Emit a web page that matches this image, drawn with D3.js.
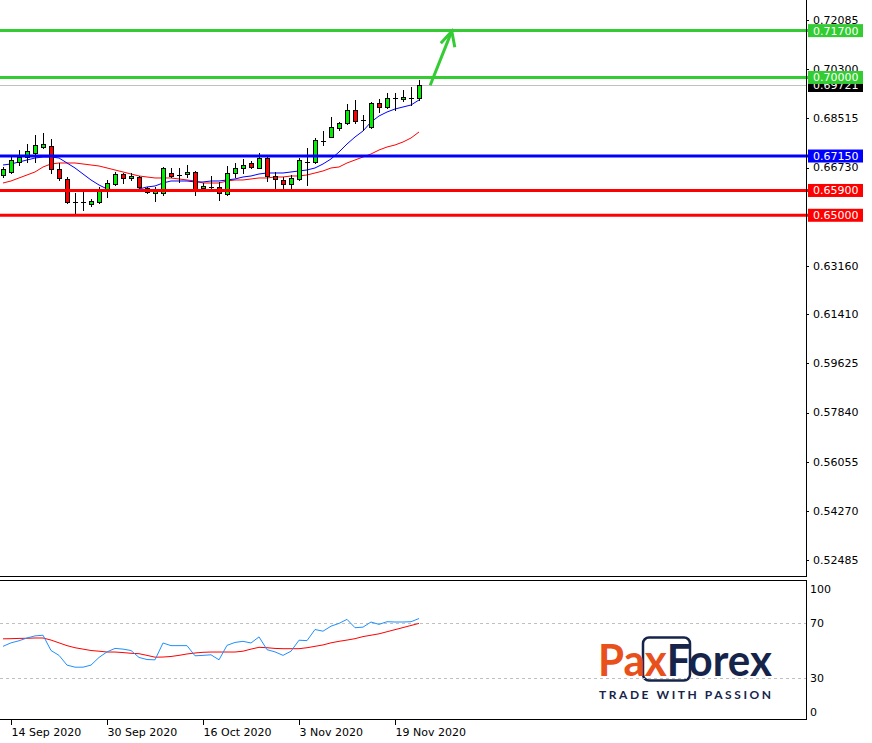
<!DOCTYPE html>
<html><head><meta charset="utf-8">
<script src="https://cdn.jsdelivr.net/npm/d3@7"></script>
<style>
body{margin:0;background:#fff;}
svg{display:block;font-family:"DejaVu Sans",sans-serif;}
</style>
</head><body>
<svg id="c" width="872" height="743"></svg>
<script>
// ---------- DATA ----------
const dates = ["2020-09-11","2020-09-14","2020-09-15","2020-09-16","2020-09-17","2020-09-18",
"2020-09-21","2020-09-22","2020-09-23","2020-09-24","2020-09-25",
"2020-09-28","2020-09-29","2020-09-30","2020-10-01","2020-10-02",
"2020-10-05","2020-10-06","2020-10-07","2020-10-08","2020-10-09",
"2020-10-12","2020-10-13","2020-10-14","2020-10-15","2020-10-16",
"2020-10-19","2020-10-20","2020-10-21","2020-10-22","2020-10-23",
"2020-10-26","2020-10-27","2020-10-28","2020-10-29","2020-10-30",
"2020-11-02","2020-11-03","2020-11-04","2020-11-05","2020-11-06",
"2020-11-09","2020-11-10","2020-11-11","2020-11-12","2020-11-13",
"2020-11-16","2020-11-17","2020-11-18","2020-11-19","2020-11-20",
"2020-11-23","2020-11-24"];
const open = [0.66462,0.66571,0.66933,0.67115,0.67260,0.67477,0.67514,0.66679,0.66317,0.65482,0.65482,0.65410,0.65482,0.65881,0.66135,0.66498,0.66353,0.66389,0.65990,0.65809,0.65809,0.66534,0.66462,0.66498,0.66571,0.65990,0.66026,0.66026,0.65772,0.66534,0.66716,0.66897,0.66716,0.67078,0.66425,0.66280,0.66135,0.66317,0.66933,0.66933,0.67695,0.67840,0.68167,0.68348,0.68820,0.68457,0.68203,0.69074,0.68929,0.69255,0.69219,0.69255,0.69255];
const high = [0.66752,0.67115,0.67368,0.67586,0.67913,0.67985,0.67768,0.66897,0.66389,0.65809,0.65845,0.65591,0.66026,0.66280,0.66571,0.66534,0.66534,0.66425,0.66026,0.66026,0.66752,0.66716,0.66716,0.66824,0.66607,0.66171,0.66425,0.66208,0.66788,0.66897,0.67042,0.66970,0.67260,0.67115,0.66571,0.66389,0.66462,0.67078,0.67441,0.67804,0.68058,0.68566,0.68384,0.69038,0.69183,0.68638,0.69110,0.69219,0.69437,0.69437,0.69545,0.69654,0.69908];
const low = [0.66389,0.66534,0.66824,0.66933,0.66933,0.67441,0.66534,0.66280,0.65446,0.65083,0.65192,0.65337,0.65446,0.65663,0.66099,0.66171,0.66280,0.65990,0.65809,0.65518,0.65736,0.66389,0.66208,0.66389,0.65736,0.65954,0.65990,0.65555,0.65736,0.66389,0.66534,0.66716,0.66716,0.66244,0.65990,0.65990,0.65990,0.66280,0.66099,0.66897,0.67550,0.67840,0.68094,0.68312,0.68348,0.68094,0.68167,0.68747,0.68892,0.68820,0.69146,0.69001,0.69183];
const close = [0.66679,0.67006,0.67115,0.67332,0.67550,0.67586,0.66679,0.66353,0.65482,0.65482,0.65482,0.65518,0.65881,0.66171,0.66498,0.66353,0.66425,0.66026,0.65845,0.65954,0.66716,0.66425,0.66462,0.66571,0.65954,0.66063,0.66026,0.65809,0.66534,0.66716,0.66824,0.66752,0.67078,0.66425,0.66317,0.66135,0.66353,0.67006,0.66933,0.67731,0.67695,0.68203,0.68348,0.68820,0.68421,0.68457,0.69074,0.68929,0.69255,0.69255,0.69291,0.69255,0.69721];
const maFast = [0.66824,0.66861,0.66933,0.67006,0.67078,0.67115,0.67115,0.67078,0.66897,0.66716,0.66498,0.66280,0.66099,0.65954,0.65917,0.65881,0.65881,0.65954,0.66026,0.66063,0.66171,0.66244,0.66244,0.66244,0.66208,0.66208,0.66244,0.66244,0.66280,0.66317,0.66389,0.66425,0.66498,0.66534,0.66534,0.66534,0.66571,0.66607,0.66643,0.66716,0.66861,0.67042,0.67296,0.67586,0.67840,0.68058,0.68384,0.68602,0.68747,0.68856,0.68929,0.69001,0.69183];
const maSlow = [0.66171,0.66244,0.66353,0.66462,0.66571,0.66752,0.66861,0.66897,0.66897,0.66897,0.66861,0.66824,0.66788,0.66716,0.66643,0.66571,0.66498,0.66425,0.66389,0.66353,0.66353,0.66353,0.66317,0.66280,0.66244,0.66171,0.66171,0.66171,0.66244,0.66280,0.66280,0.66317,0.66353,0.66353,0.66389,0.66389,0.66425,0.66425,0.66462,0.66534,0.66607,0.66716,0.66752,0.66897,0.67006,0.67115,0.67223,0.67368,0.67477,0.67550,0.67659,0.67804,0.68022];
const oscMain = [53,55.5,57,59,60.5,61,50,46.5,39.5,38,38,39.5,45,49,51.5,51,50,45,43.5,43.3,55.4,53.5,53.5,53.5,46.2,46.5,46.9,43.3,53.7,55.8,56.6,55.4,59.8,50.6,49,46.5,49.5,57.4,57.1,65.1,63.9,67.5,69.5,72.4,66.4,66.8,70.5,68.8,70.7,70.5,70.5,70.7,73];
const oscSignal = [58.4,58.5,58.7,58.8,59,59,57.5,55.5,53.5,52,51,50,49.5,48.9,48.9,48.5,48,47.7,46.5,45.2,45.3,45.7,46.5,47.5,48.2,48.7,48.9,48.9,48.9,48.9,49.5,51,52.3,52,51.5,51.3,51.3,51.3,52,53,54,55.5,56.6,57.5,58.5,60,61,62,63.5,65,66.5,68,69.5];
const priceTicks = [0.72085,0.70300,0.68515,0.66730,0.63160,0.61410,0.59625,0.57840,0.56055,0.54270,0.52485];
const levelValues = [0.71700,0.70000,0.67150,0.65900,0.65000];
const levelColors = ["#33cc33","#33cc33","#0000ff","#ff0000","#ff0000"];
const currentPrice = 0.69721;
const oscTicks = [100,70,30,0];
const oscLevels = [70,30];
const dateTicks = ["2020-09-14","2020-09-30","2020-10-16","2020-11-03","2020-11-19"];
const arrowFrom = {i:53.4, v:0.6972};
const arrowTo = {i:56.1, v:0.7168};

// ---------- LAYOUT ----------
const W=872, H=743, plotR=806, mainBottom=577, oscTop=581, oscBottom=720;
const svg=d3.select("#c");
svg.append("rect").attr("width",W).attr("height",H).attr("fill","#fff");

const x=d3.scaleLinear().domain([0,52]).range([3,419]);
const y=d3.scaleLinear().domain([0.51875,0.72811]).range([mainBottom,0]);
const yo=d3.scaleLinear().domain([0,100]).range([oscBottom,oscTop]);
const px=v=>Math.round(v)+0.5;
const idx=dates.map((d,i)=>i);

// logo (behind)
const logo=svg.append("g");
logo.append("rect").attr("x",643).attr("y",637.5).attr("width",47).attr("height",43).attr("rx",6)
  .attr("fill","none").attr("stroke","#16244a").attr("stroke-width",2.5);
const lt=logo.append("text").attr("x",598).attr("y",676).attr("font-family","Lato, 'Open Sans', sans-serif")
  .attr("font-weight","bold").attr("font-size",44).attr("textLength",174).attr("lengthAdjust","spacingAndGlyphs");
lt.append("tspan").attr("fill","#e8501c").text("Pax");
lt.append("tspan").attr("fill","#16244a").text("Forex");
logo.append("text").attr("x",599).attr("y",699).attr("font-family","Lato, 'Open Sans', sans-serif")
  .attr("font-weight","bold").attr("font-size",12).attr("fill","#16244a")
  .attr("textLength",172).attr("lengthAdjust","spacing").text("TRADE WITH PASSION");

// right axis tick labels
const ax=svg.append("g");
priceTicks.forEach(t=>{
  ax.append("line").attr("x1",plotR).attr("x2",plotR+3).attr("y1",px(y(t))).attr("y2",px(y(t))).attr("stroke","#000");
  ax.append("text").attr("x",813).attr("y",y(t)).attr("dy","0.35em").attr("font-size",11).attr("fill","#000")
    .text(d3.format(".5f")(t));
});

// current price line
svg.append("line").attr("x1",0).attr("x2",plotR).attr("y1",px(y(currentPrice))).attr("y2",px(y(currentPrice)))
  .attr("stroke","#c0c0c0");
svg.append("rect").attr("x",808).attr("y",Math.round(y(currentPrice))-6).attr("width",55).attr("height",13).attr("fill","#000");
svg.append("text").attr("x",813).attr("y",y(currentPrice)).attr("dy","0.35em").attr("font-size",11).attr("fill","#fff")
  .text(d3.format(".5f")(currentPrice));

// MAs
const lineGen=arr=>d3.line().x(i=>x(i)).y(i=>y(arr[i]))(idx);
svg.append("path").attr("d",lineGen(maSlow)).attr("fill","none").attr("stroke","#ff0000").attr("stroke-width",1);
svg.append("path").attr("d",lineGen(maFast)).attr("fill","none").attr("stroke","#0000ff").attr("stroke-width",1);

// candles
const cg=svg.append("g");
idx.forEach(i=>{
  const cx=Math.round(x(i));
  cg.append("line").attr("x1",cx+0.5).attr("x2",cx+0.5).attr("y1",Math.round(y(high[i]))).attr("y2",Math.round(y(low[i]))+1)
    .attr("stroke","#000");
  const o=open[i], c=close[i];
  if(o===c){
    cg.append("line").attr("x1",cx-2).attr("x2",cx+3).attr("y1",px(y(o))).attr("y2",px(y(o))).attr("stroke","#000");
  } else {
    const top=Math.round(y(Math.max(o,c))), bot=Math.round(y(Math.min(o,c)));
    cg.append("rect").attr("x",cx-1.5).attr("y",top+0.5).attr("width",4).attr("height",Math.max(1,bot-top))
      .attr("fill",c>o?"#00ee00":"#ff0000").attr("stroke","#000");
  }
});

// level lines + labels
levelValues.forEach((v,k)=>{
  svg.append("line").attr("x1",0).attr("x2",808).attr("y1",y(v)).attr("y2",y(v))
    .attr("stroke",levelColors[k]).attr("stroke-width",3);
  svg.append("rect").attr("x",808).attr("y",y(v)-6.5).attr("width",55).attr("height",13).attr("fill",levelColors[k]);
  svg.append("text").attr("x",813).attr("y",y(v)).attr("dy","0.36em").attr("font-size",11).attr("fill","#fff")
    .text(d3.format(".5f")(v));
});

// arrow
svg.append("line").attr("x1",x(arrowFrom.i)).attr("y1",y(arrowFrom.v)).attr("x2",x(arrowTo.i)).attr("y2",y(arrowTo.v))
  .attr("stroke","#33cc33").attr("stroke-width",3);
{
  const tx=x(arrowTo.i), ty=y(arrowTo.v);
  svg.append("path").attr("d",`M${tx-11},${ty+12}L${tx},${ty}L${tx+3},${ty+16}`).attr("fill","none")
    .attr("stroke","#33cc33").attr("stroke-width",3).attr("stroke-linejoin","miter");
}

// panel frames
svg.append("line").attr("x1",0).attr("x2",plotR+1).attr("y1",mainBottom-0.5).attr("y2",mainBottom-0.5).attr("stroke","#000");
svg.append("line").attr("x1",plotR+0.5).attr("x2",plotR+0.5).attr("y1",0).attr("y2",mainBottom).attr("stroke","#000");
svg.append("rect").attr("x",-1).attr("y",oscTop-0.5).attr("width",plotR+1.5).attr("height",oscBottom-oscTop)
  .attr("fill","none").attr("stroke","#000");

// oscillator
oscLevels.forEach(l=>{
  svg.append("line").attr("x1",0).attr("x2",plotR).attr("y1",px(yo(l))).attr("y2",px(yo(l)))
    .attr("stroke","#c0c0c0").attr("stroke-dasharray","3,3");
});
const oLine=arr=>d3.line().x(i=>x(i)).y(i=>yo(arr[i]))(idx);
svg.append("path").attr("d",oLine(oscSignal)).attr("fill","none").attr("stroke","#ff0000");
svg.append("path").attr("d",oLine(oscMain)).attr("fill","none").attr("stroke","#1e90ff");
const oscLabelY={100:yo(100)+8,70:yo(70),30:yo(30),0:yo(0)-8};
oscTicks.forEach(t=>{
  svg.append("text").attr("x",810).attr("y",oscLabelY[t]).attr("dy","0.35em").attr("font-size",11).attr("fill","#000").text(t);
});

// date axis
const fmt=d3.timeFormat("%-d %b %Y"), parse=d3.timeParse("%Y-%m-%d");
dateTicks.forEach(d=>{
  const i=dates.indexOf(d), tx=Math.round(x(i))+0.5;
  svg.append("line").attr("x1",tx).attr("x2",tx).attr("y1",oscBottom).attr("y2",oscBottom+5).attr("stroke","#000");
  svg.append("text").attr("x",tx).attr("y",736).attr("font-size",11).attr("fill","#000").text(fmt(parse(d)));
});
</script>
</body></html>
